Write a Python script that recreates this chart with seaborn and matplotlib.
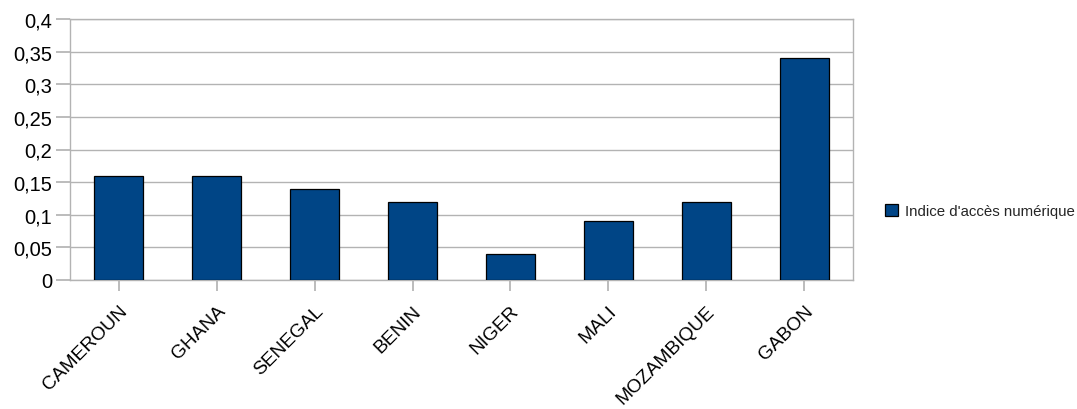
import numpy as np
import pandas as pd
import matplotlib
matplotlib.use("Agg")
import matplotlib.pyplot as plt
import seaborn as sns
from matplotlib.ticker import FuncFormatter

# Données
pays = ["CAMEROUN", "GHANA", "SENEGAL", "BENIN", "NIGER", "MALI", "MOZAMBIQUE", "GABON"]
indice = [0.16, 0.16, 0.14, 0.12, 0.04, 0.09, 0.12, 0.34]
serie = "Indice d'accès numérique"

df = pd.DataFrame({"pays": pays, "indice": indice, "serie": serie})

sns.set_theme(style="white")
plt.rcParams['font.family'] = ['Liberation Sans', 'DejaVu Sans']

fig = plt.figure(figsize=(10.77, 4.10), dpi=100)
ax = fig.add_axes([70 / 1077, 1 - 281 / 410, (853 - 70) / 1077, (281 - 20) / 410])

sns.barplot(data=df, x="pays", y="indice", hue="serie", palette=["#004586"],
            saturation=1, width=0.5, edgecolor="black", linewidth=0.9, ax=ax, zorder=3)

ax.set_xlim(-0.5, len(pays) - 0.5)
ax.set_ylim(0, 0.4)
ax.set_yticks(np.arange(0, 0.401, 0.05))
ax.yaxis.set_major_formatter(FuncFormatter(lambda v, p: ("%g" % round(v, 2)).replace(".", ",")))
ax.grid(axis="y", color="#b3b3b3", linewidth=1, zorder=0)
ax.set_xlabel("")
ax.set_ylabel("")

for s in ax.spines.values():
    s.set_color("#b3b3b3")
    s.set_linewidth(1)

ax.tick_params(axis="y", length=10, color="#b3b3b3", labelsize=14.5, labelcolor="black", pad=3, left=True)
ax.tick_params(axis="x", length=8, color="#b3b3b3", labelsize=13.8, labelcolor="black", pad=8, bottom=True)
plt.setp(ax.get_xticklabels(), rotation=45, ha="right", rotation_mode="anchor")

leg = ax.legend(loc="center left", bbox_to_anchor=(1.041, 0.264), frameon=False,
                fontsize=10.8, handlelength=0.85, handleheight=0.85, handletextpad=0.45,
                borderpad=0, borderaxespad=0)

fig.savefig("out.png", dpi=100)
